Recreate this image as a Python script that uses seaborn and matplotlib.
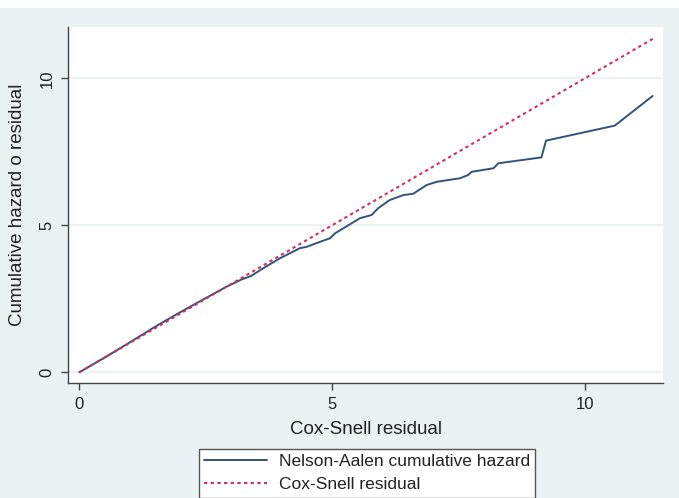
import pandas as pd
import seaborn as sns
import matplotlib.pyplot as plt
from matplotlib.patches import Rectangle

# Cox-Snell residuals and the Nelson-Aalen cumulative hazard
cs_resid = [0.0, 0.5, 1.0, 1.5, 1.9, 2.4, 2.9, 3.2, 3.4, 3.6, 3.97, 4.36, 4.5,
            4.7, 4.96, 5.06, 5.3, 5.55, 5.78, 5.91, 6.14, 6.41, 6.6, 6.87,
            7.07, 7.53, 7.69, 7.76, 8.19, 8.29, 9.14, 9.23, 10.59, 11.34]
na_hazard = [0.0, 0.5, 1.02, 1.55, 1.95, 2.43, 2.9, 3.15, 3.28, 3.5, 3.88, 4.22,
             4.27, 4.4, 4.56, 4.73, 4.98, 5.24, 5.35, 5.58, 5.86, 6.03, 6.07,
             6.37, 6.48, 6.6, 6.71, 6.82, 6.94, 7.11, 7.31, 7.88, 8.39, 9.4]
# reference line: residual plotted against itself
ref_resid = [0.0, 11.34]

x_ticks = [0, 5, 10]
y_ticks = [0, 5, 10]

df = pd.DataFrame({"cs": cs_resid, "H": na_hazard})
ref = pd.DataFrame({"cs": ref_resid, "ref": ref_resid})

sns.set_style("white")
plt.rcParams['font.family'] = ['Liberation Sans', 'DejaVu Sans']
plt.rcParams['text.color'] = '#222222'

bg = '#eaf2f3'
fig = plt.figure(figsize=(6.79, 4.98), dpi=100, facecolor=bg)
fig.patches.append(Rectangle((0, 1 - 8 / 498), 1, 8 / 498, transform=fig.transFigure,
                             facecolor='white', edgecolor='none', zorder=0))
ax = fig.add_axes([68.3 / 679, 1 - 382.7 / 498, 595 / 679, 356 / 498])
ax.set_facecolor('white')

sns.lineplot(data=df, x="cs", y="H", ax=ax, color='#32547a', linewidth=1.4,
             label='Nelson-Aalen cumulative hazard', legend=False)
sns.lineplot(data=ref, x="cs", y="ref", ax=ax, color='#d0325f', linewidth=1.5,
             linestyle=(0, (1.6, 1.6)), label='Cox-Snell residual', legend=False)

ax.set_xlim(-0.218, 11.55)
ax.set_ylim(-0.354, 11.755)
ax.set_xticks(x_ticks)
ax.set_yticks(y_ticks)
ax.grid(axis='y', color=bg, linewidth=1.3)
ax.grid(axis='x', visible=False)

for s in ['top', 'right']:
    ax.spines[s].set_visible(False)
for s in ['left', 'bottom']:
    ax.spines[s].set_color('#444444')
    ax.spines[s].set_linewidth(1.0)

ax.tick_params(axis='both', which='major', length=5, width=1.0, color='#444444',
               labelsize=12, labelcolor='#222222', bottom=True, left=True)
ax.tick_params(axis='x', pad=5)
ax.tick_params(axis='y', pad=5)
for lbl in ax.get_yticklabels():
    lbl.set_rotation(90)
    lbl.set_va('center')

ax.set_xlabel('Cox-Snell residual', fontsize=13.5, color='#222222')
ax.set_ylabel('Cumulative hazard o residual', fontsize=13.5, color='#222222')
ax.xaxis.set_label_coords(0.5, -0.108)
ax.yaxis.set_label_coords(-0.071, 0.5)

handles, labels = ax.get_legend_handles_labels()
if ax.get_legend() is not None:
    ax.get_legend().remove()
leg = fig.legend(handles, labels, loc='upper center',
                 bbox_to_anchor=(367 / 679, 1 - 449 / 498),
                 frameon=True, fancybox=False, edgecolor='#555555',
                 facecolor='white', framealpha=1, fontsize=12.5,
                 handlelength=3.6, handletextpad=0.7, borderpad=0.3,
                 labelspacing=0.45, borderaxespad=0)
leg.get_frame().set_linewidth(1.0)

fig.savefig('out.png', dpi=100, facecolor=bg)
